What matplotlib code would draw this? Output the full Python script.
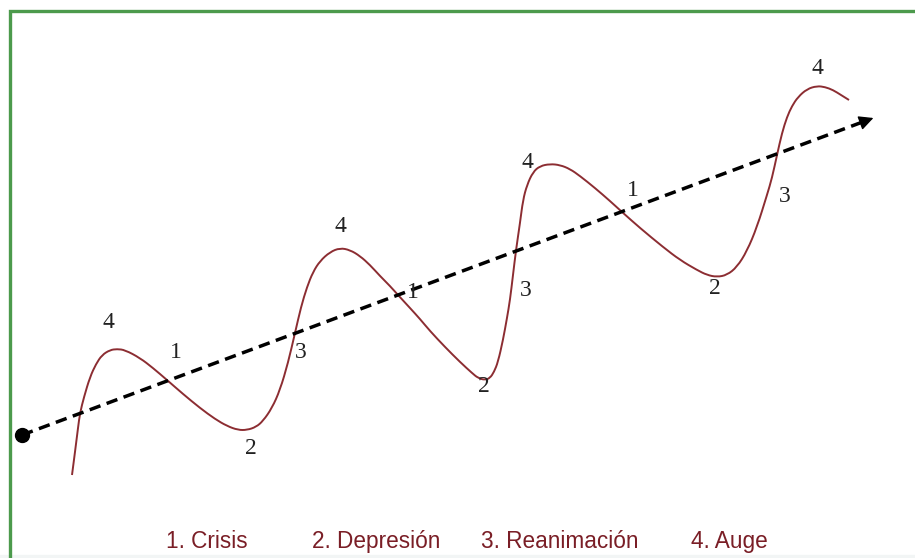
import matplotlib
matplotlib.use("Agg")
import matplotlib.pyplot as plt
from matplotlib.path import Path
from matplotlib.patches import PathPatch

# diagram coordinates (x right, y down, pixels)
curve_x = [72, 75, 78, 80, 84, 90, 96, 102, 110, 117, 125, 140, 153, 167, 183, 200, 215, 227,
           238, 247, 256, 263, 272, 280, 288, 295, 301, 307, 313, 320, 330, 340, 350, 360, 370,
           380, 390, 398, 410, 420, 430, 445, 460, 472, 478, 485, 490, 494, 498, 503, 507, 510,
           513, 516, 520, 523, 527, 533, 540, 550, 560, 570, 580, 595, 610, 622, 640, 663, 680,
           697, 707, 717, 727, 737, 747, 757, 767, 772, 777, 782, 787, 792, 798, 807, 817, 825,
           833, 841, 849]
curve_y = [475, 452, 428, 413, 397, 377, 364, 355, 350, 349, 350, 358, 368, 380, 394, 408, 419, 426,
           430, 430, 427, 421, 408, 390, 363, 333, 307, 287, 272, 261, 252, 248, 250, 256, 265,
           276, 286, 295, 308, 319, 331, 347, 362, 373, 378, 380, 378, 372, 362, 340, 318, 300,
           275, 250, 223, 200, 185, 172, 166, 164, 165, 169, 176, 188, 201, 212, 228, 247, 260,
           270, 275, 277, 275, 267, 251, 227, 195, 178, 155, 133, 117, 106, 97, 89, 86, 87,
           90, 95, 100]

trend_x = [22, 876]
trend_y = [435, 117]

phase_labels = ["4", "1", "2", "3", "4", "1", "2", "3", "4", "1", "2", "3", "4"]
phase_x = [108, 176, 251, 301, 340, 413, 484, 526, 527, 633, 715, 785, 817]
phase_y = [322, 353, 449, 353, 227, 293, 386, 290, 162, 190, 289, 196, 68]

legend_items = ["1. Crisis", "2. Depresión", "3. Reanimación", "4. Auge"]
legend_x = [166, 312, 481, 691]

W, H = 915, 558
fig = plt.figure(figsize=(W / 100, H / 100), dpi=100)
ax = fig.add_axes([0, 0, 1, 1])
ax.set_xlim(0, W)
ax.set_ylim(H, 0)
ax.axis("off")

# green frame (cut off on right and bottom)
ax.plot([10, 10, W + 5], [H + 5, 11, 11], color="#4c9a4c", lw=2.4,
        solid_joinstyle="miter", zorder=1)
ax.axhspan(555, H, color="#f2f5f5", zorder=0)

# trend arrow
dx = trend_x[1] - trend_x[0]
dy = trend_y[1] - trend_y[0]
ax.plot([trend_x[0], trend_x[0] + dx * 0.985], [trend_y[0], trend_y[0] + dy * 0.985],
        color="black", lw=2.5, dashes=(3.3, 1.9), zorder=3)
ax.annotate("", xy=(trend_x[1], trend_y[1]),
            xytext=(trend_x[0] + dx * 0.975, trend_y[0] + dy * 0.975),
            arrowprops=dict(arrowstyle="-|>", color="black", lw=1, mutation_scale=22),
            zorder=4)
ax.plot(trend_x[0], trend_y[0], "o", color="black", ms=10, zorder=5)

# cycle curve: read points used as quadratic B-spline control points
pts = list(zip(curve_x, curve_y))
verts = [pts[0], ((pts[0][0] + pts[1][0]) / 2, (pts[0][1] + pts[1][1]) / 2)]
codes = [Path.MOVETO, Path.LINETO]
for a, b in zip(pts[1:-1], pts[2:]):
    verts += [a, ((a[0] + b[0]) / 2, (a[1] + b[1]) / 2)]
    codes += [Path.CURVE3, Path.CURVE3]
verts.append(pts[-1])
codes.append(Path.LINETO)
ax.add_patch(PathPatch(Path(verts, codes), fill=False, edgecolor="#8c2d32", lw=1.4,
                       joinstyle="round", zorder=2))

for s, x, y in zip(phase_labels, phase_x, phase_y):
    ax.text(x, y, s, family="Liberation Serif", fontsize=17, color="#222222",
            ha="center", va="center", zorder=6)

for s, x in zip(legend_items, legend_x):
    ax.text(x, 548, s, family="Liberation Sans", fontsize=16.3, color="#7a1e26",
            ha="left", va="baseline")

fig.savefig("out.png", dpi=100)
